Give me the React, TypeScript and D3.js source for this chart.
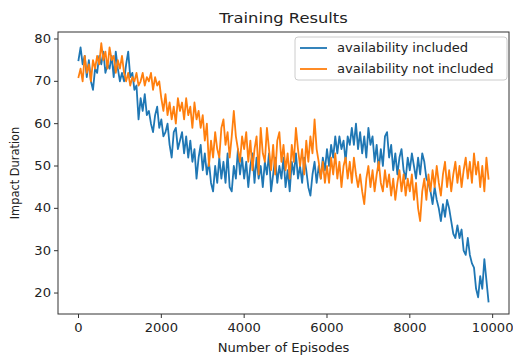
import React from "react";
import * as d3 from "d3";

const W = 513;
const H = 358;

const title = "Training Results";
const xLabel = "Number of Episodes";
const yLabel = "Impact Duration";
const seriesNames = ["availability included", "availability not included"];
const seriesColors = ["#1f77b4", "#ff7f0e"];
const xTicks = [0, 2000, 4000, 6000, 8000, 10000];
const yTicks = [20, 30, 40, 50, 60, 70, 80];

// episodes: every 50 from 0 to 9900
const episodes = d3.range(0, 9901, 50);

const availabilityIncluded = [
  75, 78, 74, 76, 71, 75, 70, 68, 73, 72,
  76, 74, 77, 72, 74, 73, 76, 71, 77, 73,
  70, 72, 70, 74, 77, 71, 72, 68, 69, 61,
  66, 63, 67, 62, 63, 60, 58, 62, 64, 59,
  61, 57, 58, 60, 55, 52, 58, 59, 54, 56,
  58, 53, 57, 52, 56, 51, 54, 47, 52, 55,
  49, 53, 48, 51, 46, 44, 50, 46, 52, 47,
  51, 46, 53, 45, 44, 50, 47, 54, 48, 52,
  47, 51, 45, 50, 53, 46, 52, 47, 50, 45,
  51, 48, 53, 44, 48, 52, 46, 50, 47, 52,
  45, 49, 44, 51, 48, 53, 47, 50, 46, 52,
  49, 45, 43, 48, 51, 46, 50, 47, 52, 49,
  54, 50, 55, 52, 57, 53, 57, 54, 56, 51,
  57, 55, 59, 55, 60, 54, 58, 53, 57, 52,
  59, 55, 57, 51, 55, 49, 54, 50, 57, 58,
  52, 55, 49, 53, 48, 52, 54, 49, 47, 52,
  49, 53, 50, 47, 52, 48, 53, 51, 47, 46,
  44, 41, 45, 42, 40, 37, 41, 38, 42, 40,
  37, 34, 33, 36, 33, 35, 30, 29, 33, 29,
  27, 26, 21, 19, 24, 21, 28, 23, 18,
];

const availabilityNotIncluded = [
  71, 73, 70, 76, 72, 74, 70, 75, 73, 76,
  74, 79, 75, 77, 73, 78, 75, 76, 72, 75,
  73, 76, 72, 70, 72, 69, 71, 70, 72, 69,
  70, 72, 69, 71, 70, 72, 68, 71, 69, 70,
  66, 63, 67, 62, 65, 61, 64, 60, 66, 63,
  65, 61, 66, 62, 64, 59, 65, 61, 63, 59,
  62, 56, 60, 50, 56, 52, 58, 54, 52, 59,
  61, 55, 58, 52, 57, 63, 57, 54, 51, 57,
  54, 58, 51, 56, 49, 54, 57, 48, 59, 53,
  51, 59, 54, 49, 55, 48, 56, 58, 51, 55,
  49, 53, 47, 55, 51, 59, 54, 50, 54, 48,
  56, 51, 57, 53, 61, 54, 51, 47, 51, 46,
  50, 46, 52, 48, 53, 47, 51, 45, 50, 52,
  47, 51, 46, 52, 48, 45, 48, 44, 41, 47,
  50, 45, 49, 44, 48, 51, 46, 44, 49, 45,
  48, 43, 47, 42, 46, 49, 44, 48, 43, 47,
  44, 48, 42, 46, 40, 37, 44, 47, 42, 48,
  44, 49, 45, 50, 46, 43, 48, 51, 45, 49,
  44, 48, 51, 46, 50, 45, 49, 52, 47, 51,
  46, 53, 48, 51, 45, 50, 44, 52, 47,
];

const series = [availabilityIncluded, availabilityNotIncluded];

const M = { left: 58, right: 509, top: 32, bottom: 314 };
const FONT = "DejaVu Sans, sans-serif";
const SX = 1.15;

export default function App() {
  const x = d3.scaleLinear().domain([-495, 10395]).range([M.left, M.right]);
  const y = d3.scaleLinear().domain([15.05, 81.65]).range([M.bottom, M.top]);
  const line = d3
    .line<number>()
    .x((_, i) => x(episodes[i]))
    .y((d) => y(d));

  const T = (props: any) => {
    const { x: tx, y: ty, children, ...rest } = props;
    return (
      <text
        transform={`translate(${tx},${ty}) scale(${SX},1)`}
        fontFamily={FONT}
        fill="#222"
        {...rest}
      >
        {children}
      </text>
    );
  };

  return (
    <svg
      width={W}
      height={H}
      style={{ position: "absolute", left: 0, top: 0, background: "#fff" }}
    >
      <rect x={0} y={0} width={W} height={H} fill="#fff" />
      <g>
        {series.map((s, k) => (
          <path
            key={k}
            d={line(s) || ""}
            fill="none"
            stroke={seriesColors[k]}
            strokeWidth={1.8}
            strokeLinejoin="round"
            strokeLinecap="square"
          />
        ))}
      </g>
      <rect
        x={M.left}
        y={M.top}
        width={M.right - M.left}
        height={M.bottom - M.top}
        fill="none"
        stroke="#333"
        strokeWidth={1}
      />
      {xTicks.map((t) => (
        <g key={t}>
          <line x1={x(t)} x2={x(t)} y1={M.bottom} y2={M.bottom + 4} stroke="#333" />
          <T x={x(t)} y={332} fontSize={11.4} textAnchor="middle">
            {t}
          </T>
        </g>
      ))}
      {yTicks.map((t) => (
        <g key={t}>
          <line x1={M.left - 4} x2={M.left} y1={y(t)} y2={y(t)} stroke="#333" />
          <T x={M.left - 7} y={y(t) + 4} fontSize={11.4} textAnchor="end">
            {t}
          </T>
        </g>
      ))}
      <T x={(M.left + M.right) / 2} y={23} fontSize={14.2} textAnchor="middle">
        {title}
      </T>
      <T x={(M.left + M.right) / 2} y={352} fontSize={11.4} textAnchor="middle">
        {xLabel}
      </T>
      <text
        transform={`translate(19,${(M.top + M.bottom) / 2}) rotate(-90)`}
        fontFamily={FONT}
        fontSize={11.4}
        fill="#222"
        textAnchor="middle"
      >
        {yLabel}
      </text>
      <g>
        <rect
          x={295}
          y={37}
          width={212}
          height={43}
          rx={3}
          fill="#fff"
          fillOpacity={0.8}
          stroke="#ccc"
          strokeWidth={1}
        />
        {seriesNames.map((n, k) => (
          <g key={n}>
            <line
              x1={300}
              x2={327}
              y1={48 + k * 21}
              y2={48 + k * 21}
              stroke={seriesColors[k]}
              strokeWidth={1.8}
            />
            <T x={337} y={52 + k * 21} fontSize={11.4}>
              {n}
            </T>
          </g>
        ))}
      </g>
    </svg>
  );
}
